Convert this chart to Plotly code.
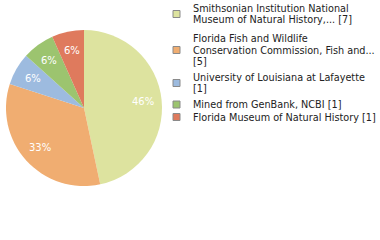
import math
import plotly.graph_objects as go

categories = [
    "Smithsonian Institution National<br>Museum of Natural History,... [7]",
    "Florida Fish and Wildlife<br>Conservation Commission, Fish and...<br>[5]",
    "University of Louisiana at Lafayette<br>[1]",
    "Mined from GenBank, NCBI [1]",
    "Florida Museum of Natural History [1]",
]
values = [7, 5, 1, 1, 1]
colors = ["#dde39f", "#f0ad71", "#9dbbdf", "#9cc46f", "#df7a5d"]

total = sum(values)
pct_text = [f"{int(v * 100 // total)}%" for v in values]

# layout constants (pixels in a 380x240 figure)
W, H = 380, 240
pie_left, pie_right, pie_top, pie_bottom = 6, 162, 30, 186
pie_domain = dict(x=[pie_left / W, pie_right / W], y=[1 - pie_bottom / H, 1 - pie_top / H])
cx, cy = (pie_left + pie_right) / 2, (pie_top + pie_bottom) / 2
radius = (pie_right - pie_left) / 2
label_r = 0.76 * radius
legend_box_x = 173
legend_text_x = 191
entry_centers = [14, 50, 83, 104.5, 117]
line_h = 11.8
box = 7

fig = go.Figure()
fig.add_trace(go.Pie(
    labels=categories,
    values=values,
    textinfo="none",
    marker=dict(colors=colors, line=dict(color="white", width=0)),
    sort=False,
    direction="clockwise",
    rotation=0,
    hoverinfo="label+value",
    domain=pie_domain,
    showlegend=False,
))

shapes = []
annotations = []

# percentage labels at the middle angle of each slice
cum = 0
for v, t in zip(values, pct_text):
    mid = (cum + v / 2) / total * 2 * math.pi
    cum += v
    px = cx + label_r * math.sin(mid)
    py = cy - label_r * math.cos(mid)
    annotations.append(dict(
        text=t, xref="paper", yref="paper",
        x=px / W, y=1 - py / H, xanchor="center", yanchor="middle",
        showarrow=False,
        font=dict(family="DejaVu Sans", size=10, color="white"),
    ))

# legend
for lab, col, yc in zip(categories, colors, entry_centers):
    shapes.append(dict(
        type="rect", xref="paper", yref="paper",
        x0=legend_box_x / W, x1=(legend_box_x + box) / W,
        y0=1 - (yc + box / 2) / H, y1=1 - (yc - box / 2) / H,
        fillcolor=col, line=dict(color="#8a8a8a", width=1),
    ))
    lines = lab.split("<br>")
    n = len(lines)
    for i, ln in enumerate(lines):
        y = yc + (i - (n - 1) / 2) * line_h
        annotations.append(dict(
            text=ln, xref="paper", yref="paper",
            x=legend_text_x / W, y=1 - y / H,
            xanchor="left", yanchor="middle", showarrow=False,
            font=dict(family="DejaVu Sans", size=9.7, color="#222"),
        ))

fig.update_layout(
    width=W, height=H,
    margin=dict(l=0, r=0, t=0, b=0),
    paper_bgcolor="white",
    plot_bgcolor="white",
    showlegend=False,
    shapes=shapes,
    annotations=annotations,
)

fig.write_html("out.html")
